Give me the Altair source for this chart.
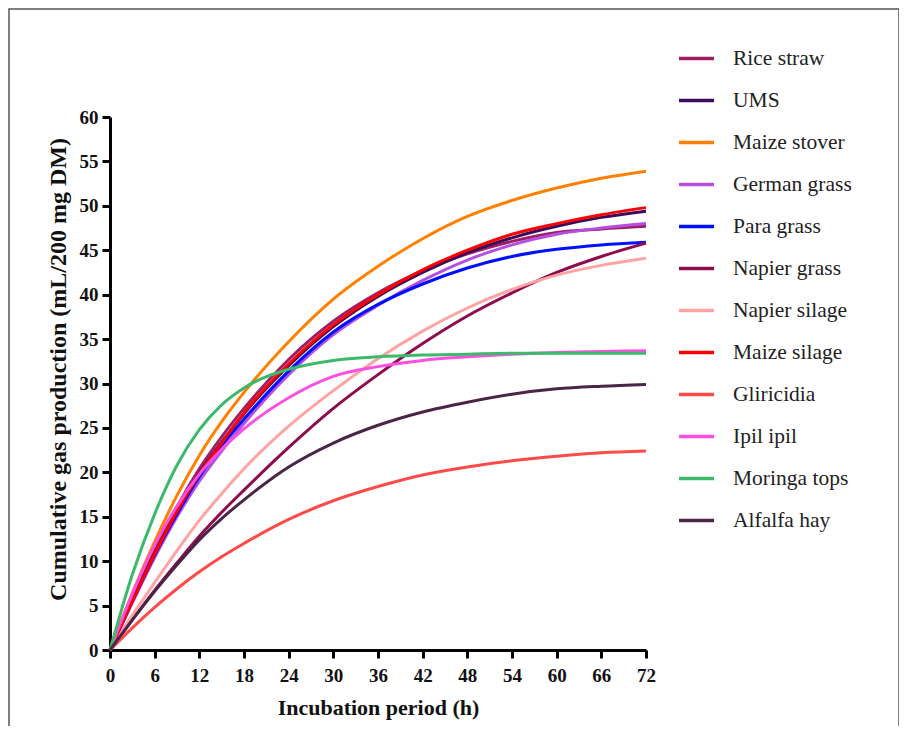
import altair as alt
import pandas as pd

hours = [0, 3, 6, 9, 12, 15, 18, 24, 30, 36, 42, 48, 54, 60, 66, 72]

series_names = ["Rice straw", "UMS", "Maize stover", "German grass", "Para grass",
                "Napier grass", "Napier silage", "Maize silage", "Gliricidia",
                "Ipil ipil", "Moringa tops", "Alfalfa hay"]
series_colors = ["#9E1F63", "#3B0B5C", "#FF8000", "#B44FE0", "#0010FF",
                 "#8E0C4E", "#FFA3A3", "#FF0000", "#FF4A4A",
                 "#FF4FE0", "#3CB96A", "#4A2545"]

rice_straw = [0, 5.7, 11.2, 16.1, 20.4, 24.0, 27.2, 32.7, 37.0, 40.2, 42.7, 44.6, 46.0, 47.0, 47.4, 47.7]
ums = [0, 5.6, 10.9, 15.7, 19.9, 23.4, 26.6, 32.0, 36.4, 39.8, 42.5, 44.7, 46.4, 47.7, 48.7, 49.4]
maize_stover = [0, 6.4, 12.2, 17.4, 21.9, 25.7, 29.0, 34.7, 39.5, 43.2, 46.3, 48.8, 50.6, 52.0, 53.1, 53.9]
german_grass = [0, 5.3, 10.4, 15.0, 19.0, 22.4, 25.5, 31.0, 35.5, 38.8, 41.6, 43.9, 45.6, 46.8, 47.5, 48.0]
para_grass = [0, 5.5, 10.7, 15.3, 19.5, 23.0, 26.0, 31.4, 35.8, 38.9, 41.2, 43.0, 44.3, 45.1, 45.6, 45.9]
napier_grass = [0, 3.4, 6.7, 9.8, 12.8, 15.5, 18.0, 22.8, 27.2, 31.0, 34.5, 37.6, 40.2, 42.5, 44.3, 45.8]
napier_silage = [0, 3.9, 7.6, 11.2, 14.6, 17.6, 20.4, 25.2, 29.2, 32.8, 35.9, 38.5, 40.6, 42.2, 43.3, 44.1]
maize_silage = [0, 5.5, 10.8, 15.6, 19.8, 23.3, 26.7, 32.2, 36.6, 40.0, 42.8, 45.0, 46.8, 48.0, 49.0, 49.8]
gliricidia = [0, 2.5, 4.8, 6.9, 8.8, 10.5, 12.0, 14.7, 16.8, 18.4, 19.7, 20.6, 21.3, 21.8, 22.2, 22.4]
ipil_ipil = [0, 6.3, 11.8, 16.2, 19.8, 22.6, 24.9, 28.4, 30.8, 31.9, 32.6, 33.0, 33.3, 33.5, 33.6, 33.7]
moringa_tops = [0, 8.5, 15.3, 20.8, 24.8, 27.6, 29.5, 31.6, 32.6, 33.0, 33.2, 33.3, 33.4, 33.4, 33.4, 33.4]
alfalfa_hay = [0, 3.4, 6.6, 9.6, 12.4, 14.8, 16.9, 20.6, 23.3, 25.3, 26.8, 27.9, 28.8, 29.4, 29.7, 29.9]

x_ticks = [0, 6, 12, 18, 24, 30, 36, 42, 48, 54, 60, 66, 72]
y_ticks = [0, 5, 10, 15, 20, 25, 30, 35, 40, 45, 50, 55, 60]

all_values = [rice_straw, ums, maize_stover, german_grass, para_grass, napier_grass,
              napier_silage, maize_silage, gliricidia, ipil_ipil, moringa_tops, alfalfa_hay]

rows = []
for name, vals in zip(series_names, all_values):
    for h, v in zip(hours, vals):
        rows.append({"Feed": name, "Hour": h, "Gas": v})
df = pd.DataFrame(rows)

FONT = "Liberation Serif"

lines = alt.Chart(df).mark_line(strokeWidth=3, interpolate="monotone").encode(
    x=alt.X("Hour:Q",
            scale=alt.Scale(domain=[0, 72], nice=False, zero=True),
            axis=alt.Axis(values=x_ticks, title="Incubation period (h)", grid=False,
                          titlePadding=12, labelPadding=8, labelFlush=False,
                          titleFontSize=22)),
    y=alt.Y("Gas:Q",
            scale=alt.Scale(domain=[0, 60], nice=False),
            axis=alt.Axis(values=y_ticks, title="Cumulative gas production (mL/200 mg DM)",
                          grid=False, titlePadding=9, labelPadding=4, labelFlush=False,
                          titleFontSize=24, titleY=252)),
    color=alt.Color("Feed:N",
                    scale=alt.Scale(domain=series_names, range=series_colors),
                    sort=series_names,
                    legend=alt.Legend(title=None, orient="none", legendX=567, legendY=-78,
                                      symbolType="stroke", symbolSize=1225,
                                      symbolStrokeWidth=3.5, labelFont=FONT,
                                      labelFontSize=21.5, labelOffset=17, rowPadding=12,
                                      padding=0, labelLimit=300, labelColor="#222222")),
    order=alt.Order("Hour:Q"),
)

frame = alt.Chart(alt.Data(values=[{"a": 1}])).mark_rect(
    filled=False, stroke="#555555", strokeWidth=1.5
).encode(
    x=alt.value(-101), x2=alt.value(789), y=alt.value(-108), y2=alt.value(640)
)

chart = alt.layer(frame, lines).properties(
    width=536, height=533,
    autosize=alt.AutoSizeParams(type="none"),
    padding={"left": 102, "top": 109, "right": 253, "bottom": 76},
    background="white",
).configure_view(stroke=None).configure_axis(
    domainColor="black", domainWidth=3, tickColor="black", tickWidth=3, tickSize=8,
    labelFont=FONT, labelFontWeight="bold", labelFontSize=19, labelColor="#111111",
    titleFont=FONT, titleFontWeight="bold",
    titleColor="#111111"
)

chart.save("out.html", embed_options={"renderer": "svg", "actions": False})
